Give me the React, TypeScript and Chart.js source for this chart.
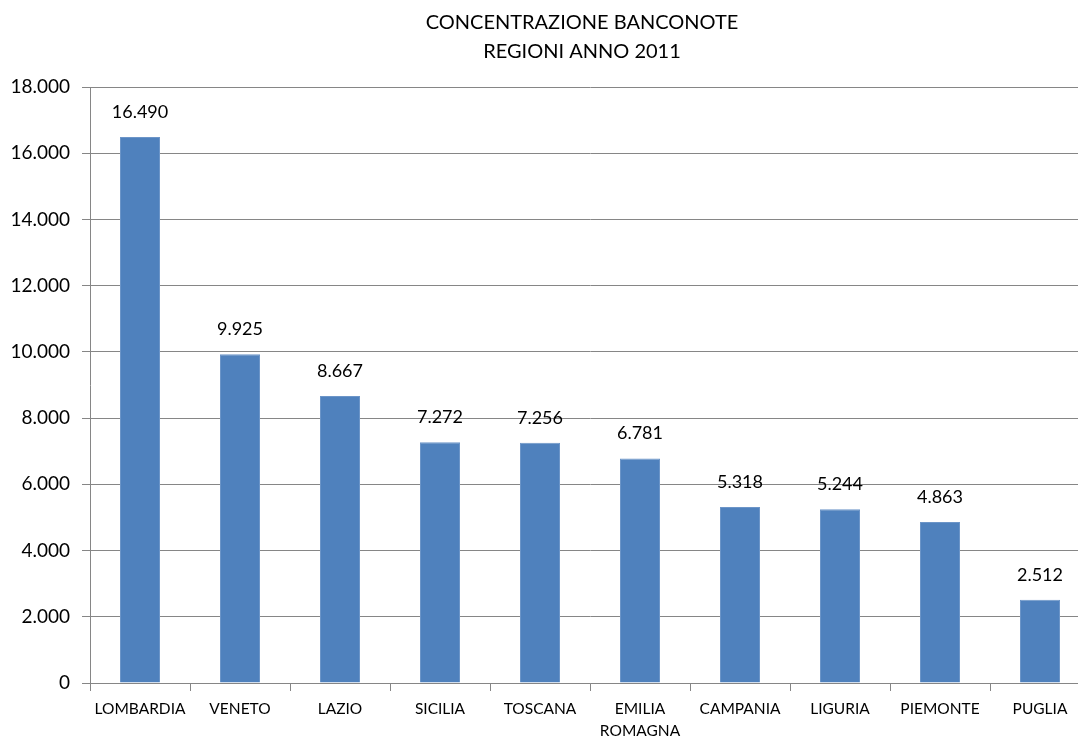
import React, { useEffect, useRef } from "react";
import { Chart, registerables } from "chart.js";

Chart.register(...registerables);

const categories: (string | string[])[] = [
  "LOMBARDIA",
  "VENETO",
  "LAZIO",
  "SICILIA",
  "TOSCANA",
  ["EMILIA", "ROMAGNA"],
  "CAMPANIA",
  "LIGURIA",
  "PIEMONTE",
  "PUGLIA",
];
const values: number[] = [16490, 9925, 8667, 7272, 7256, 6781, 5318, 5244, 4863, 2512];
const titleLines: string[] = ["CONCENTRAZIONE BANCONOTE", "REGIONI ANNO 2011"];

const fmt = (v: number) => String(Math.round(v)).replace(/\B(?=(\d{3})+(?!\d))/g, ".");

const FONT = "Lato, 'Open Sans', sans-serif";

const dataLabels = {
  id: "dataLabels",
  afterDatasetsDraw(chart: any) {
    const ctx = chart.ctx;
    const meta = chart.getDatasetMeta(0);
    ctx.save();
    ctx.font = `18px ${FONT}`;
    ctx.fillStyle = "#000";
    ctx.textAlign = "center";
    ctx.textBaseline = "middle";
    meta.data.forEach((el: any, i: number) => {
      ctx.fillText(fmt(values[i]), el.x, el.y - 25);
    });
    ctx.restore();
  },
};

const titlePlugin = {
  id: "twoLineTitle",
  afterDraw(chart: any) {
    const ctx = chart.ctx;
    ctx.save();
    ctx.font = `20px ${FONT}`;
    ctx.fillStyle = "#000";
    ctx.textAlign = "center";
    ctx.textBaseline = "middle";
    const cx = chart.chartArea.left + (chart.chartArea.right - chart.chartArea.left) / 2 - 8;
    titleLines.forEach((t, i) => ctx.fillText(t, cx, 23 + i * 29));
    ctx.restore();
  },
};

export default function App() {
  const ref = useRef<HTMLCanvasElement>(null);
  useEffect(() => {
    document.body.style.margin = "0";
    const chart = new Chart(ref.current!, {
      type: "bar",
      data: {
        labels: categories,
        datasets: [
          {
            data: values,
            backgroundColor: "#4F81BD",
            borderColor: "#6C95C8",
            borderWidth: 1,
            barPercentage: 0.8,
            categoryPercentage: 0.5,
          },
        ],
      },
      options: {
        animation: false,
        responsive: false,
        maintainAspectRatio: false,
        layout: { padding: { left: 0, right: 0, top: 87, bottom: 0 } },
        plugins: {
          legend: { display: false },
          tooltip: { enabled: false },
          title: { display: false },
        },
        scales: {
          x: {
            offset: true,
            grid: {
              offset: true,
              drawOnChartArea: false,
              drawTicks: true,
              tickLength: 8,
              color: "#868686",
            },
            border: { display: true, color: "#868686" },
            ticks: {
              color: "#000",
              font: { family: FONT, size: 15.5, lineHeight: 1.4 },
              padding: 7,
              maxRotation: 0,
              autoSkip: false,
            },
            afterFit: (s: any) => {
              s.height = 55;
            },
          },
          y: {
            min: 0,
            max: 18000,
            grid: { color: "#868686", tickLength: 8, drawTicks: true },
            border: { display: true, color: "#868686" },
            ticks: {
              stepSize: 2000,
              color: "#000",
              font: { family: FONT, size: 19 },
              padding: 12,
              callback: (v: any) => fmt(Number(v)),
            },
            afterFit: (s: any) => {
              s.width = 90;
            },
          },
        },
      },
      plugins: [dataLabels, titlePlugin],
    });
    return () => chart.destroy();
  }, []);
  return (
    <div style={{ width: 1078, height: 738, background: "#fff", overflow: "hidden" }}>
      <canvas ref={ref} width={1090} height={738} style={{ display: "block" }} />
    </div>
  );
}
